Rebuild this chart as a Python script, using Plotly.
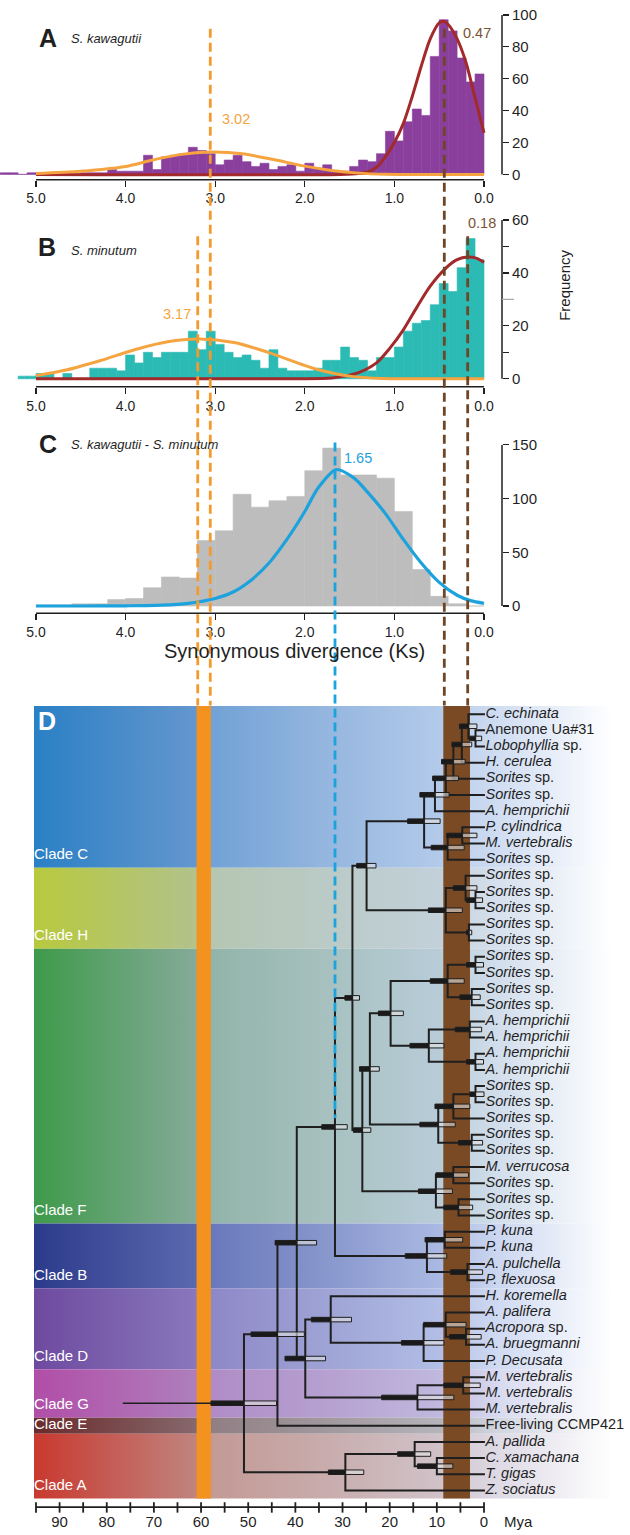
import plotly.graph_objects as go

W, H = 630, 1535

# ---------------- Panels A-C : Ks histograms ----------------
KS_TICKS = [5, 4, 3, 2, 1, 0]
KS_TICK_TEXT = ["5.0", "4.0", "3.0", "2.0", "1.0", "0.0"]

A_BIN_W = 0.1
A_COUNTS = [63, 58, 73, 90, 97, 74, 37, 41, 33, 21,
            27, 13, 8, 9, 5, 2, 2, 6, 4, 7,
            2, 6, 5, 3, 7, 5, 8, 12, 9, 6,
            13, 15, 17, 13, 12, 11, 3, 12, 2, 2,
            2, 3, 1, 1, 1, 0, 1, 1, 0, 1,
            1, 0, 1, 1]
B_BIN_W = 0.1
B_COUNTS = [45, 53, 42, 33, 36, 28, 22, 21, 18, 12,
            8, 8, 3, 7, 8, 12, 7, 7, 4, 3,
            3, 3, 4, 11, 4, 7, 9, 8, 10, 13,
            18, 11, 18, 10, 10, 10, 8, 10, 6, 9,
            3, 4, 4, 4, 0, 0, 2, 0, 2, 2,
            1, 1]
C_BIN_W = 0.2
C_COUNTS = [0, 2, 9, 34, 88, 119, 122, 122, 147, 126,
            102, 98, 92, 104, 70, 61, 26, 27, 17, 7,
            6, 2, 2, 1, 1]

A_RED_KS = [5.0, 1.6, 1.4, 1.3, 1.2, 1.1, 1.0, 0.9, 0.8, 0.7, 0.6, 0.5, 0.45, 0.4, 0.3, 0.2, 0.1, 0.0]
A_RED_N = [0, 0, 0.5, 1.5, 4.5, 11, 20, 32, 49, 68, 85, 95, 96, 94, 85, 70, 48, 26]
A_ORG_KS = [5.0, 4.5, 4.0, 3.7, 3.4, 3.05, 2.7, 2.35, 2.0, 1.7, 1.4, 1.1, 0.8, 0.0]
A_ORG_N = [0.6, 2, 5, 9, 12.4, 14, 13, 9.3, 5.2, 2.5, 0.8, 0.1, 0, 0]

B_RED_KS = [5.0, 2.0, 1.7, 1.55, 1.4, 1.2, 1.05, 0.9, 0.75, 0.6, 0.42, 0.3, 0.18, 0.08, 0.0]
B_RED_N = [0, 0, 0.3, 1, 2.3, 6, 11.6, 18.5, 27, 35, 42, 45, 46, 45.5, 44]
B_ORG_KS = [5.0, 4.65, 4.28, 3.9, 3.53, 3.18, 2.79, 2.41, 2.04, 1.87, 1.5, 1.13, 0.8, 0.0]
B_ORG_N = [1.2, 3.4, 6.9, 11, 14, 15, 13.7, 10, 5.5, 3.6, 1.0, 0.1, 0, 0]

C_BLUE_KS = [5.0, 4.5, 4.0, 3.6, 3.3, 3.0, 2.8, 2.6, 2.4, 2.2, 2.0, 1.85, 1.65, 1.45, 1.3, 1.1, 0.9, 0.7, 0.5, 0.3, 0.15, 0.0]
C_BLUE_N = [0, 0, 0.2, 0.8, 2.5, 7, 13, 24, 40, 62, 88, 110, 127, 119, 106, 86, 62, 40, 22, 10, 5, 2.5]

PEAK_LABELS = ["3.02", "0.47", "3.17", "0.18", "1.65"]
PEAK_LINE_KS = [3.055, 0.443, 3.195, 0.182, 1.663]

# ---------------- Panel D : dated tree ----------------
LEAF_LABELS = [
    "<i>C. echinata</i>", "Anemone Ua#31", "<i>Lobophyllia</i> sp.", "<i>H. cerulea</i>",
    "<i>Sorites</i> sp.", "<i>Sorites</i> sp.", "<i>A. hemprichii</i>", "<i>P. cylindrica</i>",
    "<i>M. vertebralis</i>", "<i>Sorites</i> sp.",
    "<i>Sorites</i> sp.", "<i>Sorites</i> sp.", "<i>Sorites</i> sp.", "<i>Sorites</i> sp.", "<i>Sorites</i> sp.",
    "<i>Sorites</i> sp.", "<i>Sorites</i> sp.", "<i>Sorites</i> sp.", "<i>Sorites</i> sp.",
    "<i>A. hemprichii</i>", "<i>A. hemprichii</i>", "<i>A. hemprichii</i>", "<i>A. hemprichii</i>",
    "<i>Sorites</i> sp.", "<i>Sorites</i> sp.", "<i>Sorites</i> sp.", "<i>Sorites</i> sp.", "<i>Sorites</i> sp.",
    "<i>M. verrucosa</i>", "<i>Sorites</i> sp.", "<i>Sorites</i> sp.", "<i>Sorites</i> sp.",
    "<i>P. kuna</i>", "<i>P. kuna</i>", "<i>A. pulchella</i>", "<i>P. flexuosa</i>",
    "<i>H. koremella</i>", "<i>A. palifera</i>", "<i>Acropora</i> sp.", "<i>A. bruegmanni</i>", "<i>P. Decusata</i>",
    "<i>M. vertebralis</i>", "<i>M. vertebralis</i>", "<i>M. vertebralis</i>",
    "Free-living CCMP421",
    "<i>A. pallida</i>", "<i>C. xamachana</i>", "<i>T. gigas</i>", "<i>Z. sociatus</i>",
]

# (node, child_a, child_b, age_Mya, hpd_old, hpd_young); ints are leaf numbers
TREE_NODES = [
    ("n23", 2, 3, 1.8, 3.0, 0.5),
    ("n1_3", 1, "n23", 3.3, 5.2, 1.5),
    ("n1_4", "n1_3", 4, 4.7, 6.8, 2.6),
    ("n1_5", "n1_4", 5, 6.5, 9.0, 4.0),
    ("n1_6", "n1_5", 6, 8.1, 10.9, 5.4),
    ("n1_7", "n1_6", 7, 10.4, 13.6, 7.4),
    ("n89", 8, 9, 4.6, 7.9, 1.5),
    ("n8_10", "n89", 10, 7.7, 11.2, 4.2),
    ("cladeC", "n1_7", "n8_10", 12.7, 16.2, 9.3),
    ("n1213", 12, 13, 1.8, 3.7, 0.3),
    ("n11_13", 11, "n1213", 3.9, 6.5, 1.5),
    ("n1415", 14, 15, 3.2, 3.7, 2.6),
    ("cladeH", "n11_13", "n1415", 8.1, 11.8, 4.6),
    ("nCH", "cladeC", "cladeH", 24.9, 27.0, 22.9),
    ("n1617", 16, 17, 1.8, 3.7, 0.1),
    ("n1819", 18, 19, 2.6, 5.1, 0.8),
    ("n16_19", "n1617", "n1819", 7.7, 11.4, 4.2),
    ("n2021", 20, 21, 3.0, 6.1, 0.5),
    ("n2223", 22, 23, 1.8, 3.7, 0.1),
    ("n20_23", "n2021", "n2223", 11.7, 15.7, 8.5),
    ("n16_23", "n16_19", "n20_23", 19.8, 22.4, 17.1),
    ("n2425", 24, 25, 1.8, 3.0, 0.0),
    ("n24_26", "n2425", 26, 6.5, 10.4, 3.0),
    ("n2728", 27, 28, 2.6, 5.4, 0.3),
    ("n24_28", "n24_26", "n2728", 9.7, 13.6, 6.1),
    ("n16_28", "n16_23", "n24_28", 24.2, 26.4, 22.2),
    ("n2930", 29, 30, 6.5, 10.2, 3.3),
    ("n3132", 31, 32, 5.4, 8.5, 2.4),
    ("n29_32", "n2930", "n3132", 10.2, 13.9, 6.7),
    ("cladeF", "n16_28", "n29_32", 25.8, 27.7, 24.0),
    ("nCHF", "nCH", "cladeF", 27.9, 29.5, 26.4),
    ("n3334", 33, 34, 8.3, 12.5, 4.5),
    ("n3536", 35, 36, 3.5, 7.1, 0.3),
    ("cladeB", "n3334", "n3536", 12.1, 16.7, 7.9),
    ("nCHFB", "nCHF", "cladeB", 31.6, 34.4, 29.0),
    ("n3940", 39, 40, 3.8, 7.3, 0.6),
    ("n38_40", 38, "n3940", 8.1, 12.8, 3.8),
    ("n38_41", "n38_40", 41, 12.8, 17.5, 8.5),
    ("cladeD", 37, "n38_41", 32.5, 36.6, 28.1),
    ("n4243", 42, 43, 4.4, 8.5, 0.8),
    ("cladeG", "n4243", 44, 14.1, 21.7, 6.4),
    ("nDG", "cladeD", "cladeG", 37.9, 42.2, 33.6),
    ("nBig", "nCHFB", "nDG", 39.7, 44.3, 35.5),
    ("nE", "nBig", 45, 43.8, 49.4, 38.1),
    ("n4748", 47, 48, 10.0, 14.1, 6.6),
    ("n46_48", 46, "n4748", 14.7, 18.3, 11.3),
    ("cladeA", "n46_48", 49, 29.4, 33.0, 25.5),
    ("root", "nE", "cladeA", 50.9, 57.9, 44.0),
]
ROOT_STEM_AGE = 76.6

CLADE_NAMES = ["Clade C", "Clade H", "Clade F", "Clade B", "Clade D", "Clade G", "Clade E", "Clade A"]
CLADE_BOUNDS = [0.5, 10.5, 15.5, 32.5, 36.5, 41.5, 44.5, 45.5, 49.5]
CLADE_COLORS = [
    ["#2A80C5", "#6396CE", "#72A2D6", "#93B5DE", "#B3CAEA", "#D0DDF2", "#FFFFFF"],
    ["#B8C93E", "#B2C28A", "#B5C6B2", "#BACAC5", "#C2D0DA", "#D6E0EE", "#FFFFFF"],
    ["#3E9A4A", "#84AA98", "#92B4AA", "#A6C0BE", "#B8CCD8", "#D2DEEC", "#FFFFFF"],
    ["#2C3A8C", "#5A68AE", "#6A79BC", "#8695CB", "#AAB9E2", "#CCD7F0", "#FFFFFF"],
    ["#6E4A9F", "#8877BC", "#8F88C8", "#9DA2D4", "#B2BEE6", "#D0DAF2", "#FFFFFF"],
    ["#B14EA8", "#AE7EBB", "#B08CC6", "#B59FD0", "#C0B8DE", "#D8DAF0", "#FFFFFF"],
    ["#6A2B2C", "#86676B", "#917F84", "#A0979C", "#B4B4BA", "#D2D6E0", "#FFFFFF"],
    ["#C9392F", "#C0837E", "#C39A96", "#C8ABAB", "#D0C2C8", "#DEDAE6", "#FFFFFF"],
]
GRAD_STOPS = [0.0, 0.27, 0.30, 0.48, 0.68, 0.78, 0.97]

ORANGE_BAND_MYA = [60.95, 57.9]
BROWN_BAND_MYA = [8.63, 2.97]
MYA_TICKS = list(range(95, -1, -5))
MYA_LABELS = [90, 80, 70, 60, 50, 40, 30, 20, 10, 0]

# ---------------- geometry helpers ----------------
PX_PER_KS = 89.6
KS0_PX = 484.0
KS_RANGE = [KS0_PX / PX_PER_KS, (KS0_PX - W) / PX_PER_KS]
MYA_PER_KS = 19.0
MYA_RANGE = [KS_RANGE[0] * MYA_PER_KS, KS_RANGE[1] * MYA_PER_KS]
LEFT_EDGE_MYA = (KS0_PX - 34) / PX_PER_KS * MYA_PER_KS


def px(x):
    return x / W


def py(y):
    return 1 - y / H


def px_to_mya(x):
    return (KS0_PX - x) / PX_PER_KS * MYA_PER_KS


LEAF0_PX, LEAF_STEP = 710.7, 16.3


def idx(ypix):
    return 1 + (ypix - LEAF0_PX) / LEAF_STEP


FONT = "Liberation Sans, Arial, sans-serif"
INK = "#1f1f1f"
PURPLE, TEAL, GREY = "#8B3F9D", "#2BBBB4", "#BDBDBD"
RED, ORANGE_C, BLUE = "#A22A2B", "#F5A440", "#1CA2DC"
ORANGE_D, BROWN_D = "#F39A2E", "#6E4527"

fig = go.Figure()


def centers(n, w):
    return [w / 2 + i * w for i in range(n)]


def add_hist(counts, w, color, xa, ya):
    fig.add_trace(go.Bar(x=centers(len(counts), w), y=counts, width=w,
                         marker=dict(color=color, line=dict(color=color, width=0.6)),
                         xaxis=xa, yaxis=ya, hoverinfo="skip", showlegend=False))


def add_curve(xs, ys, color, xa, ya, width=3):
    fig.add_trace(go.Scatter(x=xs, y=ys, mode="lines",
                             line=dict(color=color, width=width, shape="spline", smoothing=0.8),
                             xaxis=xa, yaxis=ya, hoverinfo="skip", showlegend=False))


add_hist(A_COUNTS, A_BIN_W, PURPLE, "x", "y")
add_curve(A_RED_KS, A_RED_N, RED, "x", "y")
add_curve(A_ORG_KS, A_ORG_N, ORANGE_C, "x", "y")
add_hist(B_COUNTS, B_BIN_W, TEAL, "x2", "y2")
add_curve(B_RED_KS, B_RED_N, RED, "x2", "y2")
add_curve(B_ORG_KS, B_ORG_N, ORANGE_C, "x2", "y2")
add_hist(C_COUNTS, C_BIN_W, GREY, "x3", "y3")
add_curve(C_BLUE_KS, C_BLUE_N, BLUE, "x3", "y3", width=3.2)

# ---------------- tree: backgrounds ----------------
for k, name in enumerate(CLADE_NAMES):
    t, b = CLADE_BOUNDS[k], CLADE_BOUNDS[k + 1]
    cs = [[s, c] for s, c in zip(GRAD_STOPS, CLADE_COLORS[k])] + [[1.0, "#FFFFFF"]]
    fig.add_trace(go.Scatter(
        x=[LEFT_EDGE_MYA, MYA_RANGE[1], MYA_RANGE[1], LEFT_EDGE_MYA, LEFT_EDGE_MYA],
        y=[t, t, b, b, t], mode="lines", fill="toself", line=dict(width=0),
        fillgradient=dict(type="horizontal", colorscale=cs, start=LEFT_EDGE_MYA, stop=MYA_RANGE[1]),
        xaxis="x4", yaxis="y4", hoverinfo="skip", showlegend=False))

for band, col in ((ORANGE_BAND_MYA, "#F4921F"), (BROWN_BAND_MYA, "#7A4A24")):
    t, b = CLADE_BOUNDS[0], CLADE_BOUNDS[-1]
    fig.add_trace(go.Scatter(x=[band[0], band[1], band[1], band[0], band[0]], y=[t, t, b, b, t],
                             mode="lines", fill="toself", fillcolor=col, line=dict(width=0),
                             xaxis="x4", yaxis="y4", hoverinfo="skip", showlegend=False))

# ---------------- tree: branches ----------------
TIP = -0.2
pos = {i + 1: (TIP, float(i + 1)) for i in range(len(LEAF_LABELS))}
for name, a, b, age, lo, hi in TREE_NODES:
    pos[name] = (age, (pos[a][1] + pos[b][1]) / 2)

lx, ly = [], []
for name, a, b, age, lo, hi in TREE_NODES:
    (aa, ya), (ab, yb) = pos[a], pos[b]
    lx += [aa, age, age, ab, None]
    ly += [ya, ya, yb, yb, None]
fig.add_trace(go.Scatter(x=lx, y=ly, mode="lines", line=dict(color=INK, width=2),
                         xaxis="x4", yaxis="y4", hoverinfo="skip", showlegend=False))
ry = pos["root"][1]
fig.add_trace(go.Scatter(x=[ROOT_STEM_AGE, pos["root"][0]], y=[ry, ry], mode="lines",
                         line=dict(color=INK, width=1.5), xaxis="x4", yaxis="y4",
                         hoverinfo="skip", showlegend=False))

# HPD bars
BH = 0.14
bx_dark, by_dark, bx_light, by_light = [], [], [], []
for name, a, b, age, lo, hi in TREE_NODES:
    y = pos[name][1]
    bx_dark += [lo, age, age, lo, lo, None]
    by_dark += [y - BH, y - BH, y + BH, y + BH, y - BH, None]
    bx_light += [age, hi, hi, age, age, None]
    by_light += [y - BH, y - BH, y + BH, y + BH, y - BH, None]
fig.add_trace(go.Scatter(x=bx_light, y=by_light, mode="lines", fill="toself",
                         fillcolor="rgba(225,225,225,0.6)", line=dict(color=INK, width=1),
                         xaxis="x4", yaxis="y4", hoverinfo="skip", showlegend=False))
fig.add_trace(go.Scatter(x=bx_dark, y=by_dark, mode="lines", fill="toself",
                         fillcolor="#1a1a1a", line=dict(color=INK, width=1),
                         xaxis="x4", yaxis="y4", hoverinfo="skip", showlegend=False))

# leaf labels
fig.add_trace(go.Scatter(x=[px_to_mya(485.5)] * len(LEAF_LABELS), y=list(range(1, len(LEAF_LABELS) + 1)),
                         mode="text", text=LEAF_LABELS, textposition="middle right",
                         textfont=dict(family=FONT, size=14.5, color=INK), cliponaxis=False,
                         xaxis="x4", yaxis="y4", hoverinfo="skip", showlegend=False))

# clade labels
cl_y = []
for k in range(len(CLADE_NAMES)):
    t, b = CLADE_BOUNDS[k], CLADE_BOUNDS[k + 1]
    cl_y.append((t + b) / 2 if b - t < 1.5 else b - 0.75)
fig.add_trace(go.Scatter(x=[LEFT_EDGE_MYA] * len(CLADE_NAMES), y=cl_y, mode="text",
                         text=CLADE_NAMES, textposition="middle right", cliponaxis=False,
                         textfont=dict(family=FONT, size=15, color="white"),
                         xaxis="x4", yaxis="y4", hoverinfo="skip", showlegend=False))

# Mya axis
AX_Y = idx(1510)
tx, ty = [MYA_TICKS[0], MYA_TICKS[-1], None], [AX_Y, AX_Y, None]
for t in MYA_TICKS:
    tx += [t, t, None]
    ty += [idx(1505), idx(1515.5), None]
fig.add_trace(go.Scatter(x=tx, y=ty, mode="lines", line=dict(color=INK, width=1.8),
                         xaxis="x4", yaxis="y4", hoverinfo="skip", showlegend=False))
fig.add_trace(go.Scatter(x=MYA_LABELS, y=[idx(1526)] * len(MYA_LABELS), mode="text",
                         text=[str(v) for v in MYA_LABELS], textposition="middle center",
                         textfont=dict(family=FONT, size=15, color=INK), cliponaxis=False,
                         xaxis="x4", yaxis="y4", hoverinfo="skip", showlegend=False))
fig.add_trace(go.Scatter(x=[px_to_mya(504)], y=[idx(1526)], mode="text",
                         text=["Mya"], textposition="middle right", cliponaxis=False,
                         textfont=dict(family=FONT, size=15, color=INK),
                         xaxis="x4", yaxis="y4", hoverinfo="skip", showlegend=False))

# ---------------- axes ----------------
panels = [
    # (xaxis, yaxis, bottom_px, zero_px, top_px, ymax, tickvals, ticktext)
    ("xaxis", "yaxis", 172.0, 166.7, 6.0, 100, [0, 20, 40, 60, 80, 100], None),
    ("xaxis2", "yaxis2", 380.7, 372.7, 212.7, 60, [0, 10, 20, 30, 40, 50, 60], ["0", "", "20", "", "40", "", "60"]),
    ("xaxis3", "yaxis3", 609.0, 601.7, 439.3, 150, [0, 50, 100, 150], None),
]
YAX_X = 502 / W
layout_axes = {}
shapes = []
for n, (xk, yk, bot, zero, top, ymax, tv, tt) in enumerate(panels):
    ppc = (zero - top) / ymax
    ymin = -(bot - zero) / ppc
    yid = "y" if n == 0 else f"y{n + 1}"
    xid = "x" if n == 0 else f"x{n + 1}"
    layout_axes[xk] = dict(domain=[0, 1], range=KS_RANGE, anchor=yid, showgrid=False, zeroline=False,
                           showline=False, ticks="outside", ticklen=6, tickwidth=1.2, tickcolor=INK,
                           tickvals=KS_TICKS, ticktext=KS_TICK_TEXT,
                           tickfont=dict(family=FONT, size=14, color=INK), fixedrange=True)
    ya = dict(domain=[py(bot), py(top)], range=[ymin, ymax], anchor="free", position=YAX_X, side="right",
              showgrid=False, zeroline=False, showline=False, ticks="outside", ticklen=6, tickwidth=1.2,
              tickcolor=INK, tickvals=tv, tickfont=dict(family=FONT, size=15, color=INK), fixedrange=True)
    if tt:
        ya["ticktext"] = tt
    layout_axes[yk] = ya
    shapes.append(dict(type="line", xref=xid, yref="paper", x0=KS_TICKS[0], x1=KS_TICKS[-1],
                       y0=py(bot), y1=py(bot), line=dict(color=INK, width=1.5)))
    shapes.append(dict(type="line", xref="paper", yref=yid, x0=YAX_X, x1=YAX_X, y0=0, y1=ymax,
                       line=dict(color=INK, width=1.5)))
shapes.append(dict(type="line", xref="paper", yref="y2", x0=YAX_X, x1=514 / W, y0=30, y1=30,
                   line=dict(color="#aaaaaa", width=1.3)))

TREE_TOP_PX = 698
layout_axes["xaxis4"] = dict(domain=[0, 1], range=MYA_RANGE, anchor="y4", visible=False, fixedrange=True)
layout_axes["yaxis4"] = dict(domain=[0, py(TREE_TOP_PX)], range=[idx(H), idx(TREE_TOP_PX)],
                             anchor="x4", visible=False, fixedrange=True)

# dashed guide lines (Ks positions)
dash_specs = [
    (PEAK_LINE_KS[0], 20, 702, ORANGE_D),
    (PEAK_LINE_KS[1], 20, 702, BROWN_D),
    (PEAK_LINE_KS[2], 229, 702, ORANGE_D),
    (PEAK_LINE_KS[3], 229, 702, BROWN_D),
    (PEAK_LINE_KS[4], 437, 1118, BLUE),
]
for ks, y0, y1, col in dash_specs:
    shapes.append(dict(type="line", xref="x", yref="paper", x0=ks, x1=ks, y0=py(y0), y1=py(y1),
                       layer="above", line=dict(color=col, width=2.8, dash="9px,5px")))

# ---------------- annotations ----------------
ann = []


def txt(x, y, s, size=13, color=INK, xanchor="left", yanchor="middle", angle=0):
    ann.append(dict(x=px(x), y=py(y), xref="paper", yref="paper", text=s, showarrow=False,
                    xanchor=xanchor, yanchor=yanchor, textangle=angle,
                    font=dict(family=FONT, size=size, color=color)))


txt(37, 29, "<b>A</b>", 25)
txt(69, 30, "<i>S. kawagutii</i>", 13)
txt(36, 240, "<b>B</b>", 25)
txt(69, 243, "<i>S. minutum</i>", 13)
txt(37, 438, "<b>C</b>", 25)
txt(69, 439, "<i>S. kawagutii</i> - <i>S. minutum</i>", 13)
txt(36, 718, "<b>D</b>", 25, "white")
txt(461, 24, PEAK_LABELS[1], 14.5, "#7B5233")
txt(220, 111, PEAK_LABELS[0], 14.5, ORANGE_C)
txt(465.5, 216, PEAK_LABELS[3], 14.5, "#7B5233")
txt(160.5, 307, PEAK_LABELS[2], 14.5, ORANGE_C)
txt(342, 453, PEAK_LABELS[4], 14.5, BLUE)
txt(565, 279, "Frequency", 15, INK, "center", "middle", -90)
txt(294.5, 647, "Synonymous divergence (Ks)", 20, INK, "center", "middle")

fig.update_layout(
    width=W, height=H, margin=dict(l=0, r=0, t=0, b=0, pad=0),
    paper_bgcolor="white", plot_bgcolor="rgba(0,0,0,0)",
    showlegend=False, barmode="overlay", font=dict(family=FONT, color=INK),
    shapes=shapes, annotations=ann, **layout_axes,
)

fig.write_html("out.html", config={"displayModeBar": False, "staticPlot": True},
               post_script="document.body.style.margin='0';document.body.style.padding='0';"
                           "document.documentElement.style.overflow='hidden';")
